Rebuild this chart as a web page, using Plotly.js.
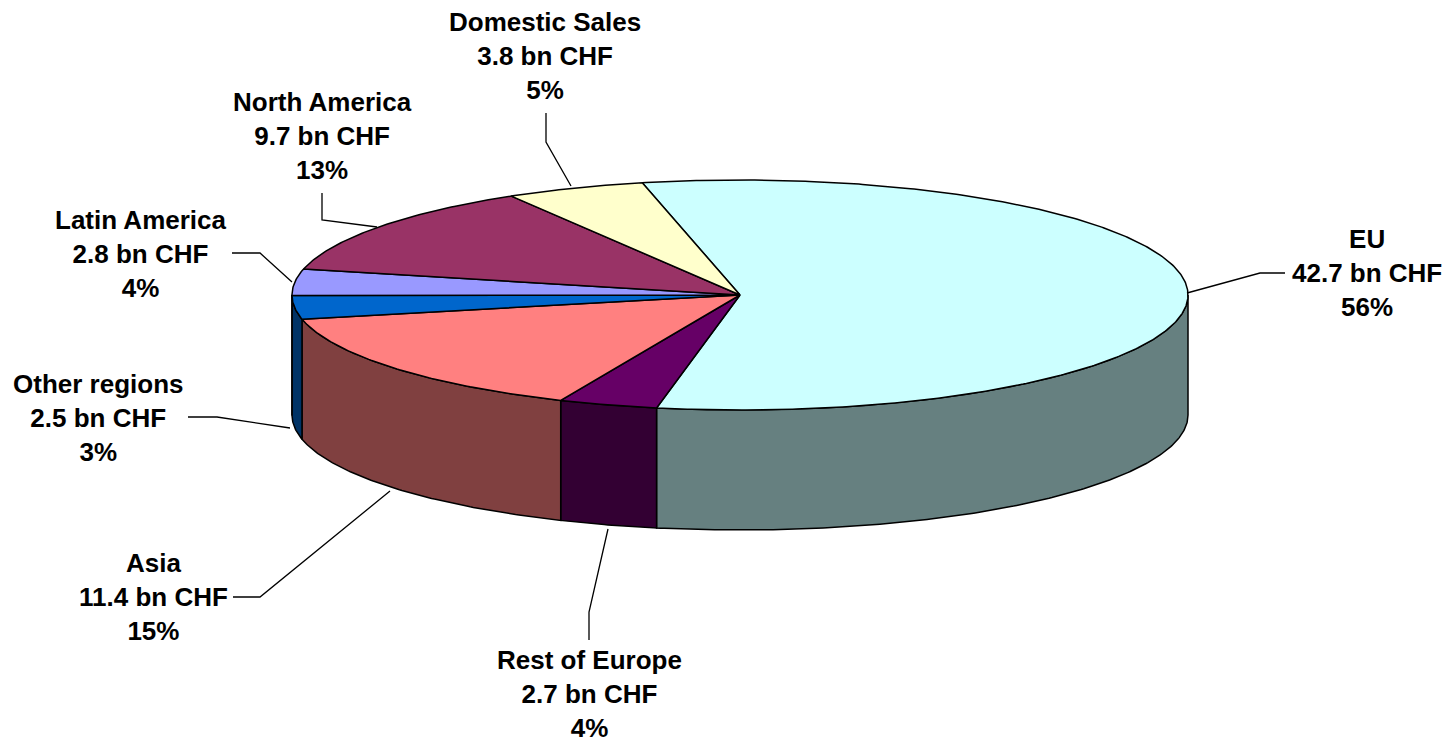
<!DOCTYPE html>
<html>
<head>
<meta charset="utf-8">
<script src="https://cdn.plot.ly/plotly-3.0.1.min.js"></script>
<style>html,body{margin:0;padding:0;background:#fff;}#chart{width:1447px;height:743px;}</style>
</head>
<body>
<div id="chart"></div>
<script>
// ---- data ----
const regions = ["EU", "Rest of Europe", "Asia", "Other regions", "Latin America", "North America", "Domestic Sales"];
const salesBnCHF = [42.7, 2.7, 11.4, 2.5, 2.8, 9.7, 3.8];
const unitLabel = "bn CHF";

// ---- styling (not data) ----
const topColors  = ["#CCFFFF", "#660066", "#FF8080", "#0066CC", "#9999FF", "#993366", "#FFFFCC"];
const sideColors = ["#668080", "#330033", "#804040", "#003366", "#4D4D80", "#4D1A33", "#808066"];
const geom = {cx: 740, cy: 295, rx: 448, ry: 115, depth: 120, startDeg: 102.6};
// label placement (pixel space): centre of label block, and leader-line paths
const labelPos = [[1367, 273], [589, 694], [153, 597], [98, 418], [141, 254], [322, 136], [545, 56]];
const leaderPaths = [
  [[1285, 273], [1260, 273], [1187, 293]],
  [[589, 640], [589, 612], [608, 529]],
  [[233, 597], [260, 597], [390, 491]],
  [[188, 417], [217, 417], [290, 428]],
  [[232, 253], [260, 253], [292, 282]],
  [[322, 193], [322, 220], [377, 227]],
  [[546, 113], [546, 142], [571, 186]]
];

const total = salesBnCHF.reduce((a, b) => a + b, 0);
const rad = d => d * Math.PI / 180;
function pt(t, dy) {
  return [geom.cx + geom.rx * Math.cos(rad(t)), geom.cy - geom.ry * Math.sin(rad(t)) + (dy || 0)];
}
function arc(a, b, dy) { // from angle a to angle b (any direction)
  const n = Math.max(2, Math.ceil(Math.abs(a - b) / 0.5));
  const out = [];
  for (let i = 0; i <= n; i++) out.push(pt(a + (b - a) * i / n, dy));
  return out;
}

const sideTraces = [], topTraces = [];
let cur = geom.startDeg;
salesBnCHF.forEach((v, i) => {
  const sweep = v / total * 360;
  const a = cur, b = cur - sweep; // clockwise
  cur = b;
  // top face
  const pts = [[geom.cx, geom.cy]].concat(arc(a, b)).concat([[geom.cx, geom.cy]]);
  topTraces.push({
    type: "scatter", mode: "lines", fill: "toself", fillcolor: topColors[i],
    x: pts.map(p => p[0]), y: pts.map(p => p[1]),
    line: {color: "#000", width: 1.5}, hoverinfo: "skip", showlegend: false
  });
  // side face: visible where sin(t) <= 0 (front half)
  const lo = b, hi = a;
  [[-180, 0], [180, 360]].forEach(([s, e]) => {
    const l = Math.max(lo, s), h = Math.min(hi, e);
    if (h - l > 0.01) {
      const topArc = arc(l, h, 0);
      const botArc = arc(h, l, geom.depth);
      const poly = topArc.concat(botArc).concat([topArc[0]]);
      sideTraces.push({
        type: "scatter", mode: "lines", fill: "toself", fillcolor: sideColors[i],
        x: poly.map(p => p[0]), y: poly.map(p => p[1]),
        line: {color: "#000", width: 1.5}, hoverinfo: "skip", showlegend: false
      });
    }
  });
});

const leaderTraces = leaderPaths.map(p => ({
  type: "scatter", mode: "lines", x: p.map(q => q[0]), y: p.map(q => q[1]),
  line: {color: "#000", width: 1.3}, hoverinfo: "skip", showlegend: false
}));

const annotations = regions.map((r, i) => ({
  x: labelPos[i][0], y: labelPos[i][1], xref: "x", yref: "y",
  xanchor: "center", yanchor: "middle", showarrow: false, align: "center",
  text: "<b>" + r + "<br>" + salesBnCHF[i].toFixed(1) + " " + unitLabel + "<br>" +
        Math.round(salesBnCHF[i] / total * 100) + "%</b>",
  font: {family: "Liberation Sans, Arial, sans-serif", size: 26, color: "#000"}
}));

const layout = {
  width: 1447, height: 743,
  margin: {l: 0, r: 0, t: 0, b: 0},
  paper_bgcolor: "#fff", plot_bgcolor: "#fff",
  xaxis: {range: [0, 1447], visible: false, fixedrange: true},
  yaxis: {range: [743, 0], visible: false, fixedrange: true},
  annotations: annotations,
  showlegend: false
};

Plotly.newPlot("chart", sideTraces.concat(topTraces).concat(leaderTraces), layout, {displayModeBar: false, staticPlot: true});
</script>
</body>
</html>
